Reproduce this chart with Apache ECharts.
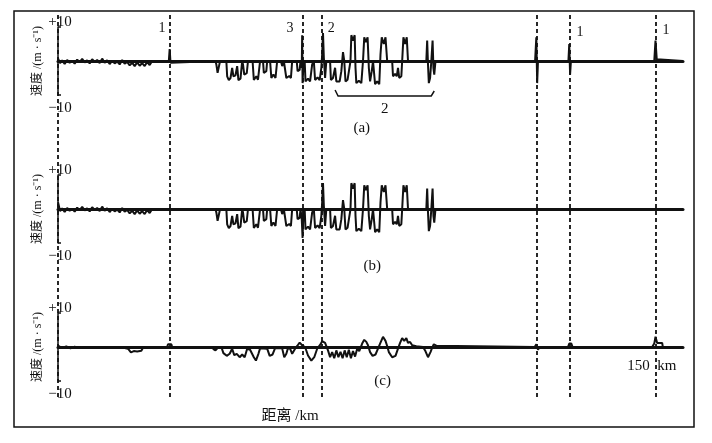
<!DOCTYPE html>
<html><head><meta charset="utf-8">
<script src="https://cdn.jsdelivr.net/npm/echarts@6/dist/echarts.min.js"></script>
<style>html,body{margin:0;padding:0;background:#fff}#c{width:712px;height:443px}</style>
</head><body><div id="c"></div>
<script>
// distance (km) / velocity (m/s) pairs
const seriesA = [
 [0,0.8],[0.5,-0.6],[1,0.2],[1.6,-0.9],[2.2,0.3],[2.8,-0.5],[3.4,0.1],[4,-0.8],[4.6,0.4],[5.2,-0.3],[5.8,0.6],[6.4,-0.4],[7,0.2],[7.6,-0.7],[8.2,0.5],[8.8,-0.3],[9.4,0.3],[10,-0.6],[10.6,0.7],[11.2,-0.5],[11.8,0.2],[12.4,-0.9],[13,0.1],[13.6,-0.7],[14.2,-0.2],[14.8,-1.0],[15.4,0.3],[16,-0.8],[16.6,-0.3],[17.2,-1.3],[17.8,-0.5],[18.4,-1.5],[19,-0.4],[19.6,-1.4],[20.2,-0.6],[20.8,-1.5],[21.4,-0.3],[22,-1.2],[22.6,0],
 [23,0],[26.6,0],[26.8,3.5],[27.0,-0.5],[27.2,0],
 [37.8,0],[38.0,-1],[38.3,-3.5],[38.7,-3.2],[38.9,0],
 [40.4,0],[40.6,-4.5],[41.0,-5.6],[41.4,-5.0],[41.8,-2],[42.1,-4.5],[42.6,-4.2],[43.0,-1.5],[43.3,-5.6],[43.8,-5.2],[44.2,0],
 [44.4,-1],[44.7,-4],[45.3,-3.6],[45.6,0],
 [46.7,0],[47.0,-5.6],[47.6,-4.5],[48.0,-5.5],[48.5,0],
 [49.2,0],[49.4,-3.5],[50.0,-3.0],[50.2,0],
 [50.9,0],[51.2,-5],[51.7,-4],[52.2,-5],[52.6,0],
 [53.5,0],[53.8,-1.5],[54.2,0],
 [54.5,0],[54.8,-5],[55.5,-4.4],[55.9,-5],[56.2,0],
 [57.3,0],[57.5,-3],[58.0,-2.6],[58.2,0],[58.5,-2],[58.6,7.6],[58.7,-6.5],[58.9,-1],[59.2,0],[59.4,-6],[60,-5.2],[60.5,-6],[61,-1],[61.4,0],
 [61.7,-5.6],[62.3,-4.8],[62.8,-5.6],[63.2,-2],[63.4,2],[63.6,8.2],[63.8,1],[64.1,-5],[64.4,0],
 [65.3,0],[65.5,-5.6],[66,-5.0],[66.5,-2],[66.8,-6],[67.2,-5.5],[67.6,-6],[68,-3],[68.4,2.6],[68.7,0],[69,-6],[69.5,-5.5],[69.9,-6],[70.2,0],[70.4,7.6],[70.8,6],[71.2,7.6],[71.4,-2],[71.6,-6.5],[72.2,-5.8],[72.8,-6.5],[73.2,0],[73.5,7],[73.9,5.5],[74.3,7],[74.6,-2],[74.9,-6],[75.3,-3],[75.6,0],[76.1,-6.8],[76.6,-6],[77.1,-6.8],[77.4,2],[77.7,7],[78.2,5],[78.6,7],[79,0],
 [80.2,0],[80.4,-4.5],[80.9,-3.8],[81.3,-4.5],[81.6,-2],[81.9,-5],[82.4,-4.5],[82.6,0],[82.9,7],[83.3,5],[83.7,7],[84,0],
 [88.4,0],[88.6,6],[88.8,-1],[89,-6.5],[89.3,-5],[89.6,0],[89.9,6],[90.1,-2],[90.3,-4],[90.6,0],
 [91,0],[114.5,0],[114.8,7],[115,-6.5],[115.2,0],
 [122.5,0],[122.7,5],[122.9,-4],[123.1,0],
 [143.1,0],[143.4,6],[143.7,0.5],[144,0],[150,0]
];
const seriesB = [
 [0,2],[0.5,-0.6],[1,0.2],[1.6,-0.9],[2.2,0.3],[2.8,-0.5],[3.4,0.1],[4,-0.8],[4.6,0.4],[5.2,-0.3],[5.8,0.6],[6.4,-0.4],[7,0.2],[7.6,-0.7],[8.2,0.5],[8.8,-0.3],[9.4,0.3],[10,-0.6],[10.6,0.7],[11.2,-0.5],[11.8,0.2],[12.4,-0.9],[13,0.1],[13.6,-0.7],[14.2,-0.2],[14.8,-1.0],[15.4,0.3],[16,-0.8],[16.6,-0.3],[17.2,-1.3],[17.8,-0.5],[18.4,-1.5],[19,-0.4],[19.6,-1.4],[20.2,-0.6],[20.8,-1.5],[21.4,-0.3],[22,-1.2],[22.6,0],
 [37.8,0],[38.0,-1],[38.3,-3.5],[38.7,-3.2],[38.9,0],
 [40.4,0],[40.6,-4.5],[41.0,-5.6],[41.4,-5.0],[41.8,-2],[42.1,-4.5],[42.6,-4.2],[43.0,-1.5],[43.3,-5.6],[43.8,-5.2],[44.2,0],
 [44.4,-1],[44.7,-4],[45.3,-3.6],[45.6,0],
 [46.7,0],[47.0,-5.6],[47.6,-4.5],[48.0,-5.5],[48.5,0],
 [49.2,0],[49.4,-3.5],[50.0,-3.0],[50.2,0],
 [50.9,0],[51.2,-5],[51.7,-4],[52.2,-5],[52.6,0],
 [53.5,0],[53.8,-1.5],[54.2,0],
 [54.5,0],[54.8,-5],[55.5,-4.4],[55.9,-5],[56.2,0],
 [57.3,0],[57.5,-3],[58.0,-2.6],[58.2,0],[58.5,-3],[58.7,-8.5],[58.9,-1],[59.2,0],[59.4,-6],[60,-5.2],[60.5,-6],[61,-1],[61.4,0],
 [61.7,-5.6],[62.3,-4.8],[62.8,-5.6],[63.2,-2],[63.4,2],[63.6,7.6],[63.8,1],[64.1,-5],[64.4,0],
 [65.3,0],[65.5,-5.6],[66,-5.0],[66.5,-2],[66.8,-6],[67.2,-5.5],[67.6,-6],[68,-3],[68.4,2.6],[68.7,0],[69,-6],[69.5,-5.5],[69.9,-6],[70.2,0],[70.4,7.6],[70.8,6],[71.2,7.6],[71.4,-2],[71.6,-6.5],[72.2,-5.8],[72.8,-6.5],[73.2,0],[73.5,7],[73.9,5.5],[74.3,7],[74.6,-2],[74.9,-6],[75.3,-3],[75.6,0],[76.1,-6.8],[76.6,-6],[77.1,-6.8],[77.4,2],[77.7,7],[78.2,5],[78.6,7],[79,0],
 [80.2,0],[80.4,-4.5],[80.9,-3.8],[81.3,-4.5],[81.6,-2],[81.9,-5],[82.4,-4.5],[82.6,0],[82.9,7],[83.3,5],[83.7,7],[84,0],
 [88.4,0],[88.6,6],[88.8,-1],[89,-6.5],[89.3,-5],[89.6,0],[89.9,6],[90.1,-2],[90.3,-4],[90.6,0],
 [91,0],[150,0]
];
const seriesC = [
 [0,0.4],[1,-0.3],[2,0.2],[3,-0.4],[4,0.1],[5,-0.3],[6,0],[8,-0.2],[10,-0.1],[12,-0.3],[14,-0.2],[16,-0.3],
 [16.8,-0.5],[17.5,-1.6],[18.2,-1.2],[19,-1.3],[20,-1.1],[20.4,-0.2],[21,-0.1],[22,0],
 [26.2,0],[26.4,0.8],[27.2,0.8],[27.4,0],
 [37,0],[37.3,-0.6],[37.8,-1],[38.4,-0.2],
 [39.2,0],[39.7,-1.8],[40.5,-2.6],[41.2,-2],[41.8,-0.5],
 [42.3,-2.4],[42.9,-2.0],[43.6,-3],[44.2,-2.2],[44.8,-3],[45.4,-0.5],
 [46.1,-0.8],[47,-3],[47.5,-4],[48.1,-2],[48.5,-0.4],
 [50.2,-0.5],[50.8,-2.6],[51.5,-2.2],[52.1,-0.3],
 [53.8,-0.4],[54.3,-3],[54.8,-2],[55.2,-0.3],
 [55.7,-0.5],[56.2,-2],[56.9,-0.5],
 [57.4,0.3],[58,1.3],[58.6,0.5],
 [59.3,0],[60,-2.5],[60.8,-4],[61.5,-3],[62.2,-0.5],
 [62.9,0.6],[63.4,1.7],[64.1,1.2],
 [64.8,-1],[65.3,-3],[65.8,-1.5],[66.3,-3.3],[66.8,-1],[67.3,-3],[67.8,-1.4],[68.3,-3.3],[68.8,-1],[69.3,-3],[69.8,-0.8],[70.3,-3.3],[70.8,-1.2],[71.3,-2.8],[71.8,-0.5],[72.3,-1.2],
 [73,1],[73.5,2.1],[74,1.5],[74.4,0.5],
 [74.9,-1.5],[75.5,-2.6],[76.2,-2.2],[76.8,-0.5],
 [77.3,1],[78,3],[78.6,1.8],[79,0.3],
 [79.4,-1.5],[80.2,-3],[81,-2.6],[81.6,-0.5],
 [82.1,1.2],[82.6,2.6],[83.1,1.8],[83.6,2.6],[84,1.2],[84.5,1.5],
 [85,0.5],[86,0.2],[87.6,0],
 [88.1,-1],[88.8,-3],[89.4,-1.5],[89.8,-0.2],
 [90.2,0.8],[90.8,0.4],[91.2,0],
 [114.4,0],[114.8,0.8],[115.2,-0.8],[115.6,0],[122.4,0],[122.7,1],[123.2,1],[123.5,0],
 [142.6,0],[143.1,1],[143.4,3],[143.8,1.2],[145,1.2],[145.2,-0.3],[146.5,-0.3],[147,0],[150,0]
];
const markerKm = [0, 26.9, 58.8, 63.4, 115.0, 122.9, 143.5];
const markerText = ['', '1', '3', '2', '', '1', '1'];
const bracketKm = [66.5, 90.3];
const bracketText = '2';
const panelNames = ['(a)', '(b)', '(c)'];
const yTicks = ['+10', '−10'];
const yName = '速度 /(m · s⁻¹)';
const xName = '距离 /km';
const xEndLabel = '150  km';

const chart = echarts.init(document.getElementById('c'), null, {renderer: 'canvas'});
const serif = '"Liberation Serif","Noto Sans CJK SC",serif';
const ink = '#111';
const tops = [27, 175, 313];
const grids = tops.map(t => ({left: 58, width: 625, top: t, height: 68}));
grids.push({left: 58, width: 625, top: 13, height: 384});
const xAxes = tops.map((t, i) => ({
  gridIndex: i, type: 'value', min: 0, max: 150,
  axisLine: {onZero: true, lineStyle: {color: ink, width: 3}},
  axisTick: {show: false}, axisLabel: {show: false}, splitLine: {show: false}
}));
xAxes.push({gridIndex: 3, type: 'value', min: 0, max: 150, show: false});
const yAxes = tops.map((t, i) => ({
  gridIndex: i, type: 'value', min: -10, max: 10, interval: 20,
  axisLine: {show: true, onZero: false, lineStyle: {color: ink, width: 1.5}},
  axisTick: {show: true, inside: true, length: 3, lineStyle: {color: ink, width: 1.5}},
  axisLabel: {show: false}, splitLine: {show: false},
  name: yName, nameLocation: 'middle', nameGap: 14, nameRotate: 90,
  nameTextStyle: {fontFamily: serif, fontSize: 12, color: ink}
}));
yAxes.push({gridIndex: 3, type: 'value', min: 0, max: 1, show: false});
const data = [seriesA, seriesB, seriesC];
const series = data.map((d, i) => ({
  type: 'line', xAxisIndex: i, yAxisIndex: i, data: d, showSymbol: false,
  animation: false, lineStyle: {color: ink, width: 2}, z: 3
}));
series.push({
  type: 'line', xAxisIndex: 3, yAxisIndex: 3, data: [], animation: false,
  markLine: {symbol: 'none', silent: true, animation: false, label: {show: false},
    lineStyle: {color: ink, width: 1.8, type: [4, 3]},
    data: markerKm.map(k => ({xAxis: k}))}
});
chart.setOption({animation: false, grid: grids, xAxis: xAxes, yAxis: yAxes, series});

const g = [];
const txt = (x, y, s, size, align) => g.push({type: 'text', x, y, z: 10,
  style: {text: s, fontFamily: serif, fontSize: size, fill: ink, align: align || 'center', verticalAlign: 'middle'}});
g.push({type: 'rect', shape: {x: 14, y: 11, width: 680, height: 416}, style: {fill: null, stroke: ink, lineWidth: 1.5}, z: 10});
tops.forEach((t, i) => {
  const p1 = chart.convertToPixel({gridIndex: i}, [0, 10]);
  const p2 = chart.convertToPixel({gridIndex: i}, [0, -10]);
  txt(p1[0] + 2, p1[1] - 5, yTicks[0], 15);
  txt(p2[0] + 2, p2[1] + 13, yTicks[1], 15);
});
// label offsets: left of line for first two, right for the rest
const labelSide = [0, -8, -13, 9, 0, 10, 10];
const labelDy = [0, 1, 1, 1, 0, 5, 3];
markerText.forEach((s, j) => {
  if (!s) return;
  const p = chart.convertToPixel({gridIndex: 0}, [markerKm[j], 10]);
  txt(p[0] + labelSide[j], p[1] + labelDy[j], s, 14);
});
const b0 = chart.convertToPixel({gridIndex: 0}, [bracketKm[0], -10]);
const b1 = chart.convertToPixel({gridIndex: 0}, [bracketKm[1], -10]);
g.push({type: 'polyline', z: 10, shape: {points: [[b0[0], b0[1] - 5], [b0[0] + 3, b0[1] + 1], [b1[0] - 3, b1[1] + 1], [b1[0], b1[1] - 4]]},
  style: {stroke: ink, lineWidth: 1.5, fill: null}});
txt((b0[0] + b1[0]) / 2, b0[1] + 14, bracketText, 15);
const mid = (bracketKm[0] + bracketKm[1]) / 2;
[[0, 128], [1, 266], [2, 381]].forEach(([i, y]) => {
  const p = chart.convertToPixel({gridIndex: i}, [mid - 5.5 + i * 2.5, 0]);
  txt(p[0], y, panelNames[i], 15);
});
const pe = chart.convertToPixel({gridIndex: 2}, [143, 0]);
txt(pe[0] - 2, 366, xEndLabel, 15);
txt(290, 416, xName, 15);
chart.setOption({graphic: g});
</script></body></html>
